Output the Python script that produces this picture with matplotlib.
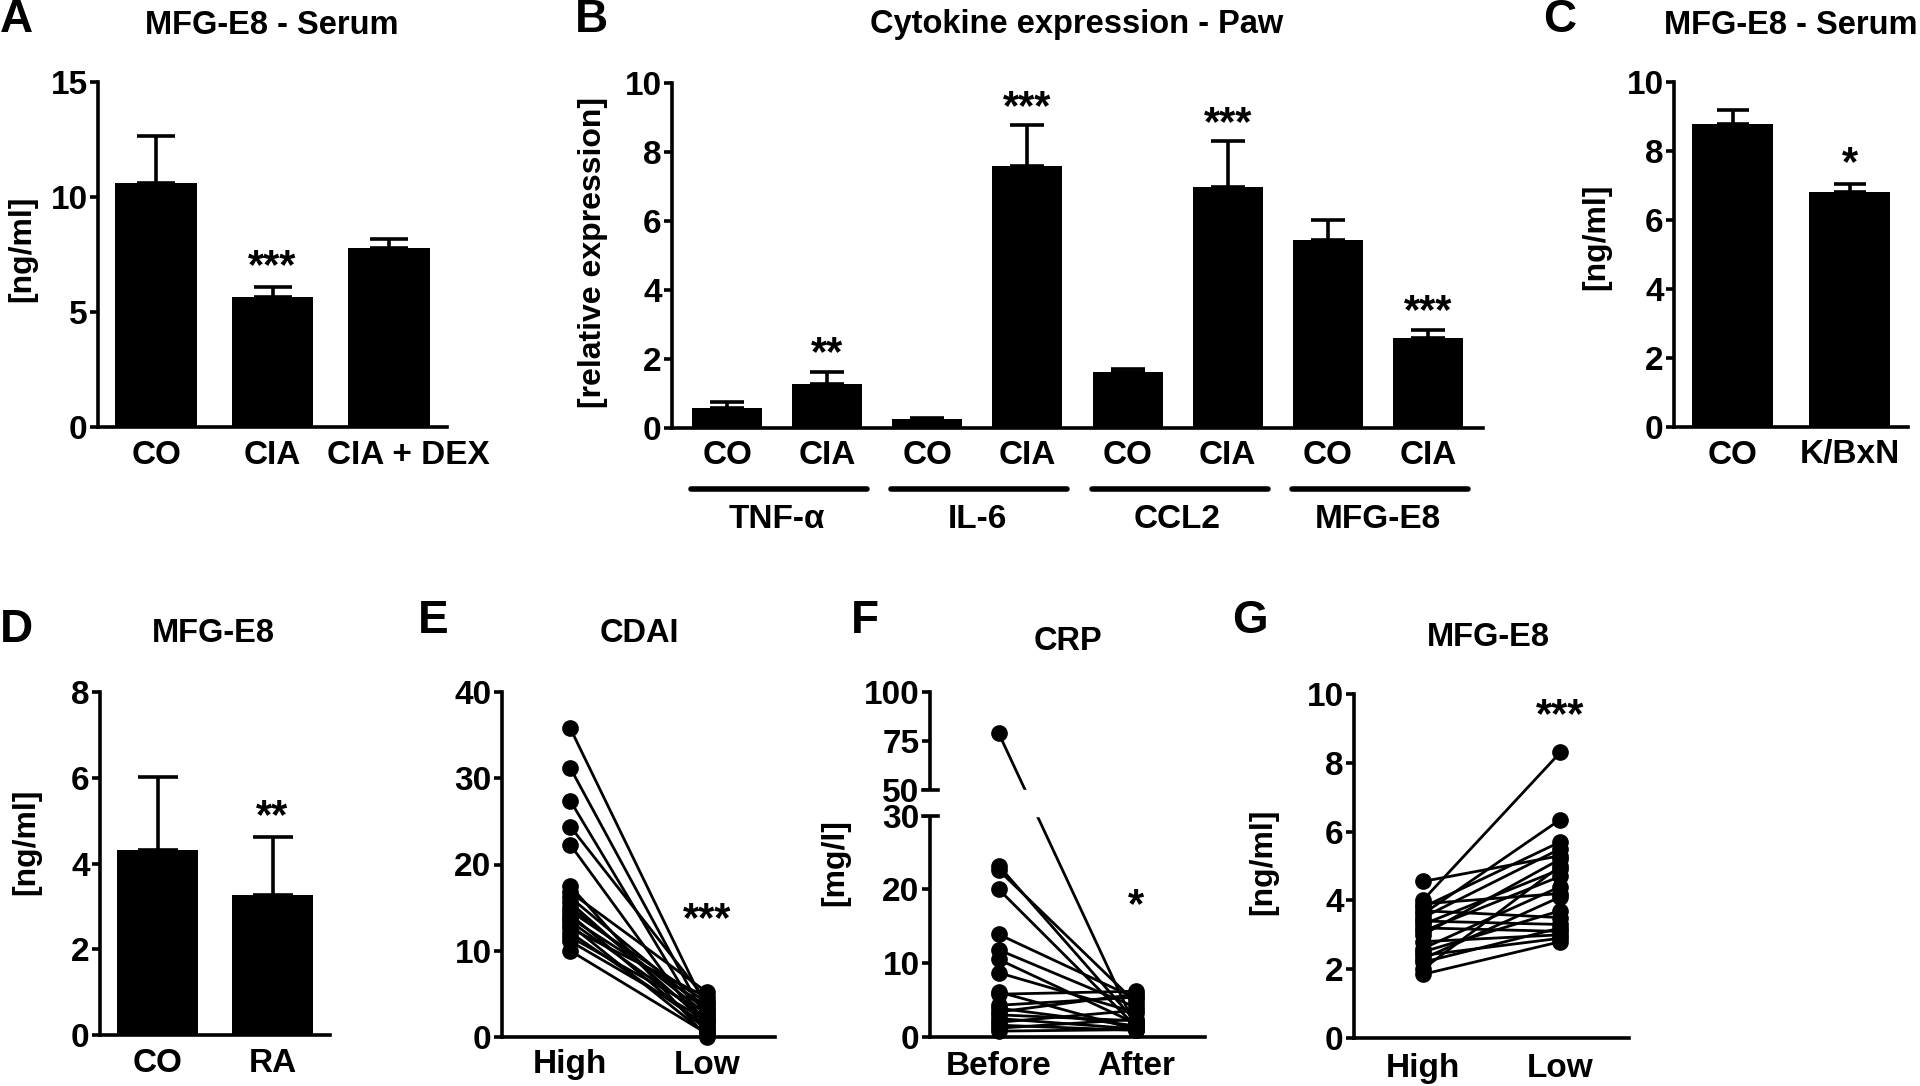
import matplotlib
matplotlib.use('Agg')
import matplotlib.pyplot as plt
import matplotlib.transforms as mtransforms
import numpy as np

plt.rcParams['font.family'] = ['Liberation Sans', 'DejaVu Sans']
plt.rcParams['font.weight'] = 'bold'
plt.rcParams['font.size'] = 24
plt.rcParams['axes.linewidth'] = 2.6

# ---- data ----
# A: MFG-E8 serum (mean, SEM)
a_groups = ['CO', 'CIA', 'CIA + DEX']
a_mean = [10.6, 5.65, 7.78]
a_sem = [2.05, 0.45, 0.39]
a_stars = ['', '***', '']

# B: cytokine expression in the paw
b_groups = ['CO', 'CIA', 'CO', 'CIA', 'CO', 'CIA', 'CO', 'CIA']
b_genes = ['TNF-α', 'IL-6', 'CCL2', 'MFG-E8']
b_mean = [0.57, 1.28, 0.25, 7.58, 1.62, 7.0, 5.45, 2.62]
b_sem = [0.18, 0.35, 0.05, 1.19, 0.08, 1.32, 0.58, 0.23]
b_stars = ['', '**', '', '***', '', '***', '', '***']

# C: MFG-E8 serum, K/BxN
c_groups = ['CO', 'K/BxN']
c_mean = [8.79, 6.81]
c_sem = [0.41, 0.23]
c_stars = ['', '*']

# D: MFG-E8 human
d_groups = ['CO', 'RA']
d_mean = [4.31, 3.26]
d_sd = [1.71, 1.35]
d_stars = ['', '**']

# E: CDAI high -> low
e_groups = ['High', 'Low']
e_high = [35.8, 31.2, 27.4, 24.4, 22.3, 17.5, 16.8, 16.2, 15.6, 15.1,
          14.6, 14.2, 13.8, 13.4, 13.0, 12.6, 12.1, 11.6, 11.1, 10.0]
e_low = [3.2, 2.0, 1.0, 4.2, 0.6, 0.0, 5.2, 3.0, 1.6, 2.6,
         4.0, 0.8, 3.6, 2.2, 0.3, 4.6, 1.3, 2.8, 1.9, 0.4]

# F: CRP before -> after
f_groups = ['Before', 'After']
f_before = [79, 23.2, 22.6, 20.0, 13.9, 11.8, 10.5, 8.7, 6.1, 5.8,
            4.3, 3.9, 3.4, 3.0, 2.5, 2.0, 1.6, 1.2, 0.8]
f_after = [1.2, 2.0, 4.6, 1.4, 5.2, 4.0, 1.8, 3.3, 1.0, 6.2,
           5.4, 1.5, 5.8, 2.2, 1.1, 3.6, 0.9, 2.4, 1.0]

# G: MFG-E8 high -> low disease activity
g_groups = ['High', 'Low']
g_high = [4.55, 4.0, 3.9, 3.8, 3.7, 3.6, 3.5, 3.4, 3.3, 3.2,
          3.1, 3.0, 2.8, 2.6, 2.5, 2.4, 2.3, 2.2, 2.0, 1.85]
g_low = [5.3, 8.3, 4.2, 5.7, 3.5, 6.35, 5.5, 3.3, 4.9, 3.1,
         4.7, 5.2, 3.0, 4.4, 3.7, 2.9, 4.1, 3.2, 5.0, 2.8]

TICK_FS = 24
STAR_FS = 30

W, H = 1920, 1086
fig = plt.figure(figsize=(W / 100, H / 100), dpi=100)


def px_axes(x0, x1, y0, y1):
    return fig.add_axes([x0 / W, 1 - y1 / H, (x1 - x0) / W, (y1 - y0) / H])


def ftext(x, y, s, **kw):
    fig.text(x / W, 1 - y / H, s, **kw)


def style(ax, xlim, ylim, yticks, xpad=9):
    ax.spines[['top', 'right']].set_visible(False)
    ax.set_xlim(xlim)
    ax.set_ylim(ylim)
    ax.set_yticks(yticks)
    ax.tick_params(axis='y', length=6, width=2.6, pad=1.5, labelsize=TICK_FS)
    ax.tick_params(axis='x', length=0, pad=xpad, labelsize=TICK_FS)


def star(ax, x, y, s):
    # y = where the middle of the asterisks should sit
    ax.annotate(s, (x, y), xytext=(0, -7), textcoords='offset points',
                ha='center', va='center', fontsize=STAR_FS)


def bar_panel(ax, groups, mean, err, stars, ylim, yticks, capsize):
    x = np.arange(len(groups))
    ax.bar(x, mean, width=0.7, color='black', zorder=2)
    ax.errorbar(x, mean, yerr=[np.zeros(len(mean)), err], fmt='none',
                ecolor='black', elinewidth=2.6, capsize=capsize, capthick=2.6,
                zorder=1)
    for xi, m, e, s in zip(x, mean, err, stars):
        if s:
            ax.annotate(s, (xi, m + e), xytext=(0, 0), textcoords='offset points',
                        ha='center', va='bottom', fontsize=STAR_FS)
    ax.set_xticks(x)
    ax.set_xticklabels(groups)
    style(ax, (-0.5, len(groups) - 0.5), ylim, yticks)


def pair_panel(ax, groups, first, second):
    for a, b in zip(first, second):
        ax.plot([0, 1], [a, b], '-o', color='black', lw=2, ms=11, clip_on=False,
                zorder=3)
    ax.set_xticks([0, 1])
    ax.set_xticklabels(groups)


# ---- A ----
axA = px_axes(98, 447, 82, 427)
bar_panel(axA, a_groups, a_mean, a_sem, a_stars, (0, 15), [0, 5, 10, 15], 14)
# the long "CIA + DEX" label sits a little to the right of its bar
shift = mtransforms.ScaledTranslation(0.2, 0, fig.dpi_scale_trans)
lab = axA.get_xticklabels()[2]
lab.set_transform(lab.get_transform() + shift)

# ---- B ----
axB = px_axes(672, 1483, 83, 428)
xb = np.arange(len(b_groups))
axB.bar(xb, b_mean, width=0.7, color='black', zorder=2)
axB.errorbar(xb, b_mean, yerr=[np.zeros(len(b_mean)), b_sem], fmt='none',
             ecolor='black', elinewidth=2.6, capsize=12.5, capthick=2.6, zorder=1)
for xi, m, e, s in zip(xb, b_mean, b_sem, b_stars):
    if s:
        axB.annotate(s, (xi, m + e), xytext=(0, -2), textcoords='offset points',
                     ha='center', va='bottom', fontsize=STAR_FS)
axB.set_xticks(xb)
axB.set_xticklabels(b_groups)
style(axB, (-0.55, 7.55), (0, 10), [0, 2, 4, 6, 8, 10])
tb = mtransforms.blended_transform_factory(axB.transData, axB.transAxes)
for i, gene in enumerate(b_genes):
    axB.plot([2 * i - 0.36, 2 * i + 1.4], [-0.177, -0.177], transform=tb,
             color='black', lw=4, solid_capstyle='round', clip_on=False)
    axB.text(2 * i + 0.5, -0.264, gene, transform=tb, ha='center', va='center',
             fontsize=TICK_FS)

# ---- C ----
axC = px_axes(1674, 1908, 82, 427)
bar_panel(axC, c_groups, c_mean, c_sem, c_stars, (0, 10), [0, 2, 4, 6, 8, 10], 11.5)

# ---- D ----
axD = px_axes(100, 330, 692, 1035)
bar_panel(axD, d_groups, d_mean, d_sd, d_stars, (0, 8), [0, 2, 4, 6, 8], 14.5)

# ---- E ----
axE = px_axes(502, 775, 692, 1037)
pair_panel(axE, e_groups, e_high, e_low)
style(axE, (-0.5, 1.5), (0, 40), [0, 10, 20, 30, 40])
star(axE, 1, 14.7, '***')

# ---- F (broken y axis) ----
axF = px_axes(930, 1205, 692, 1037)


def f_fwd(y):
    y = np.asarray(y, dtype=float)
    return np.where(y <= 30, y,
                    np.where(y <= 50, 30 + (y - 30) * 0.17,
                             33.4 + (y - 50) * 0.2667))


def f_inv(v):
    v = np.asarray(v, dtype=float)
    return np.where(v <= 30, v,
                    np.where(v <= 33.4, 30 + (v - 30) / 0.17,
                             50 + (v - 33.4) / 0.2667))


axF.set_yscale('function', functions=(f_fwd, f_inv))
pair_panel(axF, f_groups, f_before, f_after)
style(axF, (-0.5, 1.5), (0, 100), [0, 10, 20, 30, 50, 75, 100], xpad=10)
axF.axhspan(30, 50, xmin=-0.03, xmax=1.0, color='white', zorder=5, clip_on=False)
tf = mtransforms.blended_transform_factory(axF.transAxes, axF.transData)
for yb in (30, 50):
    axF.plot([-0.026, 0.03], [yb, yb], transform=tf, color='black', lw=2.6,
             clip_on=False, zorder=6)
star(axF, 1, 19.1, '*')

# ---- G ----
axG = px_axes(1354, 1629, 694, 1038)
pair_panel(axG, g_groups, g_high, g_low)
style(axG, (-0.5, 1.5), (0, 10), [0, 2, 4, 6, 8, 10], xpad=11)
star(axG, 1, 9.63, '***')

# ---- titles, panel letters, y labels ----
titles = [(272, 25, 'MFG-E8 - Serum'), (1077, 25, 'Cytokine expression - Paw'),
          (1791, 25, 'MFG-E8 - Serum'), (213, 634, 'MFG-E8'), (639, 634, 'CDAI'),
          (1068, 641, 'CRP'), (1488, 637, 'MFG-E8')]
for x, y, s in titles:
    ftext(x, y, s, ha='center', va='center', fontsize=23.5)

letters = [(0, 20, 'A'), (575, 20, 'B'), (1543, 20, 'C'), (0, 630, 'D'),
           (418, 621, 'E'), (851, 621, 'F'), (1232, 621, 'G')]
for x, y, s in letters:
    ftext(x, y, s, ha='left', va='center', fontsize=33)

ylabels = [(22, 249, '[ng/ml]'), (593, 252, '[relative expression]'),
           (1596, 237, '[ng/ml]'), (26, 842, '[ng/ml]'), (835, 863, '[mg/l]'),
           (1263, 862, '[ng/ml]')]
for x, y, s in ylabels:
    ftext(x, y, s, ha='center', va='center', rotation=90, fontsize=23)

fig.savefig('out.png', dpi=100, facecolor='white')
